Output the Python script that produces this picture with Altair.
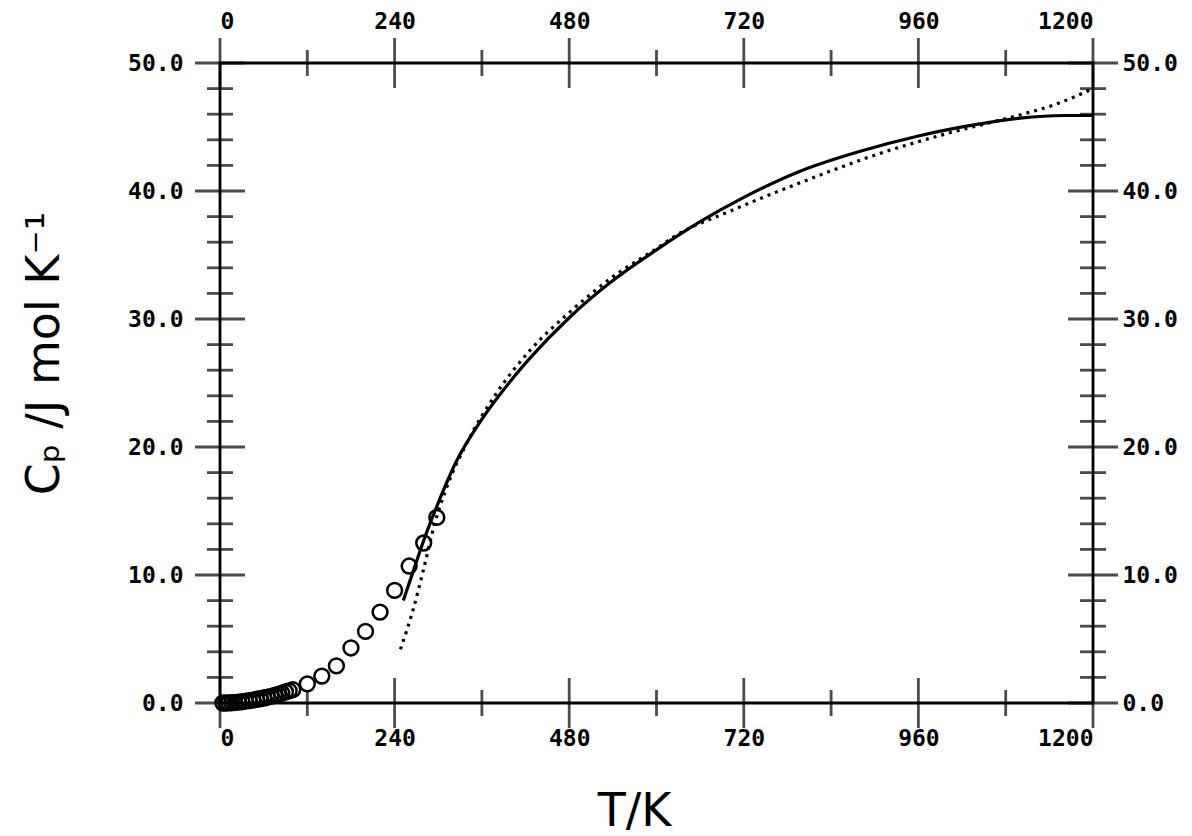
import altair as alt
import pandas as pd

# ---- data ----
T_circ = [4, 8, 12, 16, 20, 25, 30, 35, 40, 45, 50, 55, 60, 65, 70, 75, 80, 85, 90, 95, 100,
          120, 140, 160, 180, 200, 220, 240, 260, 280, 298]
Cp_circ = [0.0, 0.0, 0.01, 0.02, 0.04, 0.07, 0.1, 0.14, 0.18, 0.23, 0.28, 0.33, 0.39, 0.45, 0.52,
           0.6, 0.68, 0.77, 0.86, 0.95, 1.05, 1.5, 2.1, 2.9, 4.3, 5.6, 7.1, 8.8, 10.7, 12.5, 14.5]

T_solid = [252, 265, 280, 299, 326, 358, 400, 427, 480, 540, 600, 660, 720, 800, 880, 960,
           1040, 1100, 1160, 1200]
Cp_solid = [8.0, 10.2, 12.7, 15.5, 19.0, 22.0, 25.2, 27.0, 30.1, 33.0, 35.4, 37.6, 39.5, 41.6,
            43.1, 44.3, 45.2, 45.7, 45.9, 45.9]

T_dot = [248, 265, 280, 295, 310, 340, 380, 427, 480, 540, 600, 629, 700, 800, 900, 1000,
         1090, 1150, 1200]
Cp_dot = [4.2, 7.2, 10.5, 14.0, 16.6, 20.4, 24.2, 27.6, 30.5, 33.3, 35.5, 36.6, 38.4, 40.7,
          42.8, 44.5, 45.8, 46.8, 48.0]

T_major = [0, 240, 480, 720, 960, 1200]
T_minor = [120, 360, 600, 840, 1080]
Cp_major = [0, 10, 20, 30, 40, 50]
Cp_minor = [2, 4, 6, 8, 12, 14, 16, 18, 22, 24, 26, 28, 32, 34, 36, 38, 42, 44, 46, 48]

df_c = pd.DataFrame({"T": T_circ, "Cp": Cp_circ})
df_s = pd.DataFrame({"T": T_solid, "Cp": Cp_solid})
df_d = pd.DataFrame({"T": T_dot, "Cp": Cp_dot})
df_Tmaj = pd.DataFrame({"T": T_major})
df_Tmin = pd.DataFrame({"T": T_minor})
df_Cmaj = pd.DataFrame({"Cp": Cp_major})
df_Cmin = pd.DataFrame({"Cp": Cp_minor})

xs = alt.Scale(domain=[0, 1200], nice=False, zero=False)
ys = alt.Scale(domain=[0, 50], nice=False, zero=False)

LF = "DejaVu Sans Mono"
TF = "DejaVu Sans"

circles = alt.Chart(df_c).mark_point(
    shape="circle", filled=False, size=220, stroke="black", strokeWidth=2.5, opacity=1
).encode(
    x=alt.X("T:Q", scale=xs, axis=alt.Axis(
        orient="bottom", values=T_major, format="d", labelPadding=24,
        title="T/K", titleFont=TF, titleFontSize=46, titleFontWeight="normal",
        titleX=414, titleY=122, titleAlign="center", titleBaseline="alphabetic")),
    y=alt.Y("Cp:Q", scale=ys, axis=alt.Axis(
        orient="left", values=Cp_major, format=".1f", labelPadding=37,
        title="Cₚ /J mol K⁻¹", titleFont=TF, titleFontSize=46, titleFontWeight="normal",
        titleX=-176, titleY=290, titleAlign="center", titleBaseline="middle")),
)

solid = alt.Chart(df_s).mark_line(
    color="black", strokeWidth=3.2, interpolate="monotone"
).encode(
    x=alt.X("T:Q", scale=xs, axis=alt.Axis(
        orient="top", values=T_major, format="d", labelPadding=30, title=None)),
    y=alt.Y("Cp:Q", scale=ys, axis=alt.Axis(
        orient="right", values=Cp_major, format=".1f", labelPadding=29, title=None)),
)

dotted = alt.Chart(df_d).mark_line(
    color="black", strokeWidth=3.2, strokeDash=[3, 5], interpolate="monotone"
).encode(
    x=alt.X("T:Q", scale=xs, axis=None),
    y=alt.Y("Cp:Q", scale=ys, axis=None),
)


def vticks(df, yval, size):
    return alt.Chart(df).mark_tick(
        orient="vertical", size=size, thickness=2.8, color="black"
    ).encode(
        x=alt.X("T:Q", scale=xs, axis=None),
        y=alt.YDatum(yval, scale=ys, axis=None),
    )


def hticks(df, xval, size):
    return alt.Chart(df).mark_tick(
        orient="horizontal", size=size, thickness=2.8, color="black"
    ).encode(
        y=alt.Y("Cp:Q", scale=ys, axis=None),
        x=alt.XDatum(xval, scale=xs, axis=None),
    )


ticks = [
    vticks(df_Tmaj, 0, 50), vticks(df_Tmin, 0, 26),
    vticks(df_Tmaj, 50, 50), vticks(df_Tmin, 50, 26),
    hticks(df_Cmaj, 0, 50), hticks(df_Cmin, 0, 26),
    hticks(df_Cmaj, 1200, 50), hticks(df_Cmin, 1200, 26),
]

chart = alt.layer(circles, solid, dotted, *ticks).resolve_axis(
    x="independent", y="independent"
).properties(
    width=873, height=640,
    autosize=alt.AutoSizeParams(type="none"),
    padding={"left": 220, "top": 63, "right": 99, "bottom": 133},
).configure_view(
    stroke="black", strokeWidth=2.8
).configure_axis(
    domain=False, ticks=False, grid=False,
    labelFont=LF, labelFontSize=23, labelFontWeight="bold", labelColor="black",
    titleColor="black",
)

chart.save("out.html", embed_options={"renderer": "svg", "actions": False})
